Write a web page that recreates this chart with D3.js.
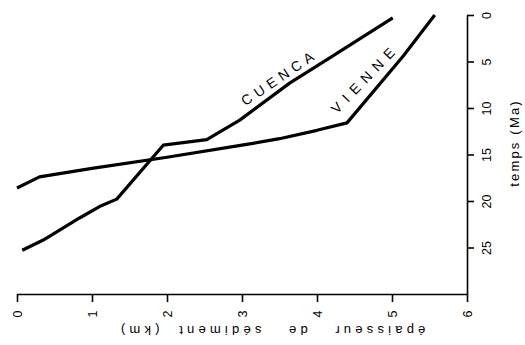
<!DOCTYPE html>
<html><head><meta charset="utf-8">
<script src="https://cdn.jsdelivr.net/npm/d3@7"></script>
<style>
body{margin:0;background:#fff;}
svg{display:block;font-family:"Liberation Sans",Arial,sans-serif;}
</style></head>
<body>
<svg id="c" width="525" height="345"></svg>
<script>
const xTicks = [0,1,2,3,4,5,6];
const yTicks = [0,5,10,15,20,25];
const viennePts = [[0,18.6],[0.3,17.4],[1.0,16.5],[2.0,15.3],[3.0,14.0],[3.5,13.3],[4.0,12.4],[4.4,11.6],[5.15,4.4],[5.57,0]];
const cuencaPts = [[0.07,25.3],[0.35,24.2],[0.84,21.8],[1.1,20.6],[1.33,19.8],[1.95,14.0],[2.53,13.4],[2.97,11.3],[3.64,7.3],[4.17,4.6],[5.01,0.3]];
const xTitle = "épaisseur   de   sédiment  (km)";
const yTitle = "temps (Ma)";
const seriesLabels = [
  {name:"CUENCA", at:[3.5,6.7], angle:-34, spacing:5},
  {name:"VIENNE", at:[4.64,6.8], angle:-46, spacing:6.5}
];

const svg = d3.select("#c");
const x = d3.scaleLinear().domain([0,6]).range([17,467]);
const y = d3.scaleLinear().domain([0,30]).range([15,294]);

// bottom axis
const gx = svg.append("g").attr("transform","translate(0,294)")
  .call(d3.axisBottom(x).tickValues(xTicks).tickSize(8).tickSizeOuter(0).tickFormat(d3.format("d")));
gx.select(".domain").attr("stroke","#000").attr("stroke-width",1.6);
gx.selectAll(".tick line").attr("stroke","#000").attr("stroke-width",1.6);
gx.selectAll(".tick text")
  .attr("y",0).attr("dy",null)
  .attr("transform","translate(0,20) rotate(-90)")
  .attr("text-anchor","middle").attr("dominant-baseline","central")
  .attr("font-size",12.5).attr("fill","#000").attr("font-family","Liberation Sans, Arial, sans-serif");

// right axis
const gy = svg.append("g").attr("transform","translate(467,0)")
  .call(d3.axisRight(y).tickValues(yTicks).tickSize(7).tickSizeOuter(0).tickFormat(d3.format("d")));
gy.select(".domain").attr("stroke","#000").attr("stroke-width",1.6);
gy.selectAll(".tick line").attr("stroke","#000").attr("stroke-width",1.6);
gy.selectAll(".tick text")
  .attr("x",0).attr("dy",null)
  .attr("transform","translate(20,0) rotate(-90)")
  .attr("text-anchor","middle").attr("dominant-baseline","central")
  .attr("font-size",12.5).attr("fill","#000").attr("font-family","Liberation Sans, Arial, sans-serif");

// titles
svg.append("text").attr("transform","translate(271,330) rotate(180)")
  .attr("text-anchor","middle").attr("dominant-baseline","central")
  .attr("font-size",13).attr("letter-spacing",4.2).style("white-space","pre")
  .text(xTitle);
svg.append("text").attr("transform","translate(514,143) rotate(-90)")
  .attr("text-anchor","middle").attr("dominant-baseline","central")
  .attr("font-size",13).attr("letter-spacing",2.2)
  .text(yTitle);

// lines
const line = d3.line().x(d=>x(d[0])).y(d=>y(d[1]));
[viennePts, cuencaPts].forEach(pts=>{
  svg.append("path").attr("d",line(pts)).attr("fill","none")
    .attr("stroke","#000").attr("stroke-width",3.2).attr("stroke-linejoin","round");
});

// series labels
seriesLabels.forEach(l=>{
  svg.append("text")
    .attr("transform",`translate(${x(l.at[0])},${y(l.at[1])}) rotate(${l.angle})`)
    .attr("text-anchor","middle").attr("dominant-baseline","central")
    .attr("font-size",14).attr("letter-spacing",l.spacing)
    .text(l.name);
});
</script>
</body></html>
